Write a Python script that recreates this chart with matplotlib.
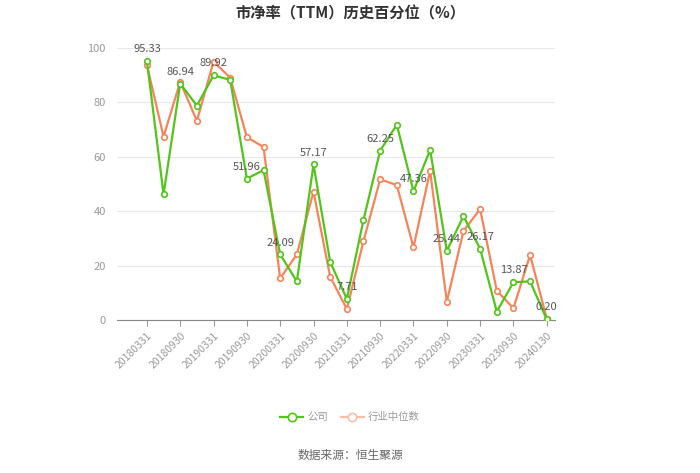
import matplotlib
matplotlib.use("Agg")
import matplotlib.pyplot as plt
from matplotlib.lines import Line2D

plt.rcParams['font.family'] = ['Noto Sans CJK SC', 'DejaVu Sans']

dates = ["20180331", "20180630", "20180930", "20181231", "20190331", "20190630",
         "20190930", "20191231", "20200331", "20200630", "20200930", "20201231",
         "20210331", "20210630", "20210930", "20211231", "20220331", "20220630",
         "20220930", "20221231", "20230331", "20230630", "20230930", "20231231",
         "20240130"]
company = [95.33, 46.2, 86.94, 78.8, 89.92, 88.3, 51.96, 55.1, 24.09, 14.2,
           57.17, 21.4, 7.71, 36.8, 62.25, 71.8, 47.36, 62.5, 25.44, 38.2,
           26.17, 3.1, 13.87, 14.2, 0.20]
industry = [93.8, 67.4, 87.6, 73.2, 95.0, 89.1, 67.2, 63.6, 15.3, 24.1,
            47.2, 15.9, 4.0, 29.0, 51.7, 49.6, 26.7, 54.9, 6.7, 32.7,
            40.8, 10.8, 4.3, 23.9, 0.4]

green = '#52c41a'
orange = '#f5845a'

fig = plt.figure(figsize=(7, 4.73), dpi=100)
ax = fig.add_axes([0.167, 0.3235, 0.626, 0.575])

x = list(range(len(dates)))
ax.plot(x, industry, color=orange, lw=1.6, marker='o', ms=4,
        mfc='white', mec=orange, mew=1.2, zorder=3)
ax.plot(x, company, color=green, lw=1.6, marker='o', ms=4,
        mfc='white', mec=green, mew=1.2, zorder=4)

# labels only on every other company point
for i in range(0, len(x), 2):
    ax.annotate(f"{company[i]:.2f}", (x[i], company[i]), xytext=(0, 5),
                textcoords='offset points', ha='center', va='bottom',
                fontsize=8, color='#555555', zorder=5)

ax.set_xlim(-1.8, 24.5)
ax.set_ylim(0, 100)
ax.set_yticks([0, 20, 40, 60, 80, 100])
ax.set_xticks(x[::2])
ax.set_xticklabels(dates[::2], rotation=45, ha='right', rotation_mode='anchor')
ax.tick_params(axis='x', colors='#999999', labelsize=7.5, length=4, width=0.8)
ax.tick_params(axis='y', length=0, labelsize=8, labelcolor='#999999', pad=8)
ax.grid(axis='y', color='#e8e8e8', lw=0.8)
ax.set_axisbelow(True)
for s in ['top', 'right', 'left']:
    ax.spines[s].set_visible(False)
ax.spines['bottom'].set_color('#888888')

fig.text(0.5, 0.972, "市净率（TTM）历史百分位（%）", ha='center', va='center',
         fontsize=11, fontweight='bold', color='#333333')

handles = [Line2D([], [], color=green, lw=1.6, marker='o', ms=6, mfc='white', mec=green, mew=1.2),
           Line2D([], [], color='#f8bda6', lw=1.6, marker='o', ms=6, mfc='white', mec='#f8bda6', mew=1.2)]
leg = fig.legend(handles, ['公司', '行业中位数'], loc='center', bbox_to_anchor=(0.5, 0.118),
                 ncol=2, frameon=False, fontsize=7.5, handlelength=2.2, columnspacing=1.2,
                 handletextpad=0.4)
for t in leg.get_texts():
    t.set_color('#999999')

fig.text(0.5, 0.037, "数据来源：恒生聚源", ha='center', va='center',
         fontsize=8.5, color='#666666')

fig.savefig('out.png', dpi=100, facecolor='white')
